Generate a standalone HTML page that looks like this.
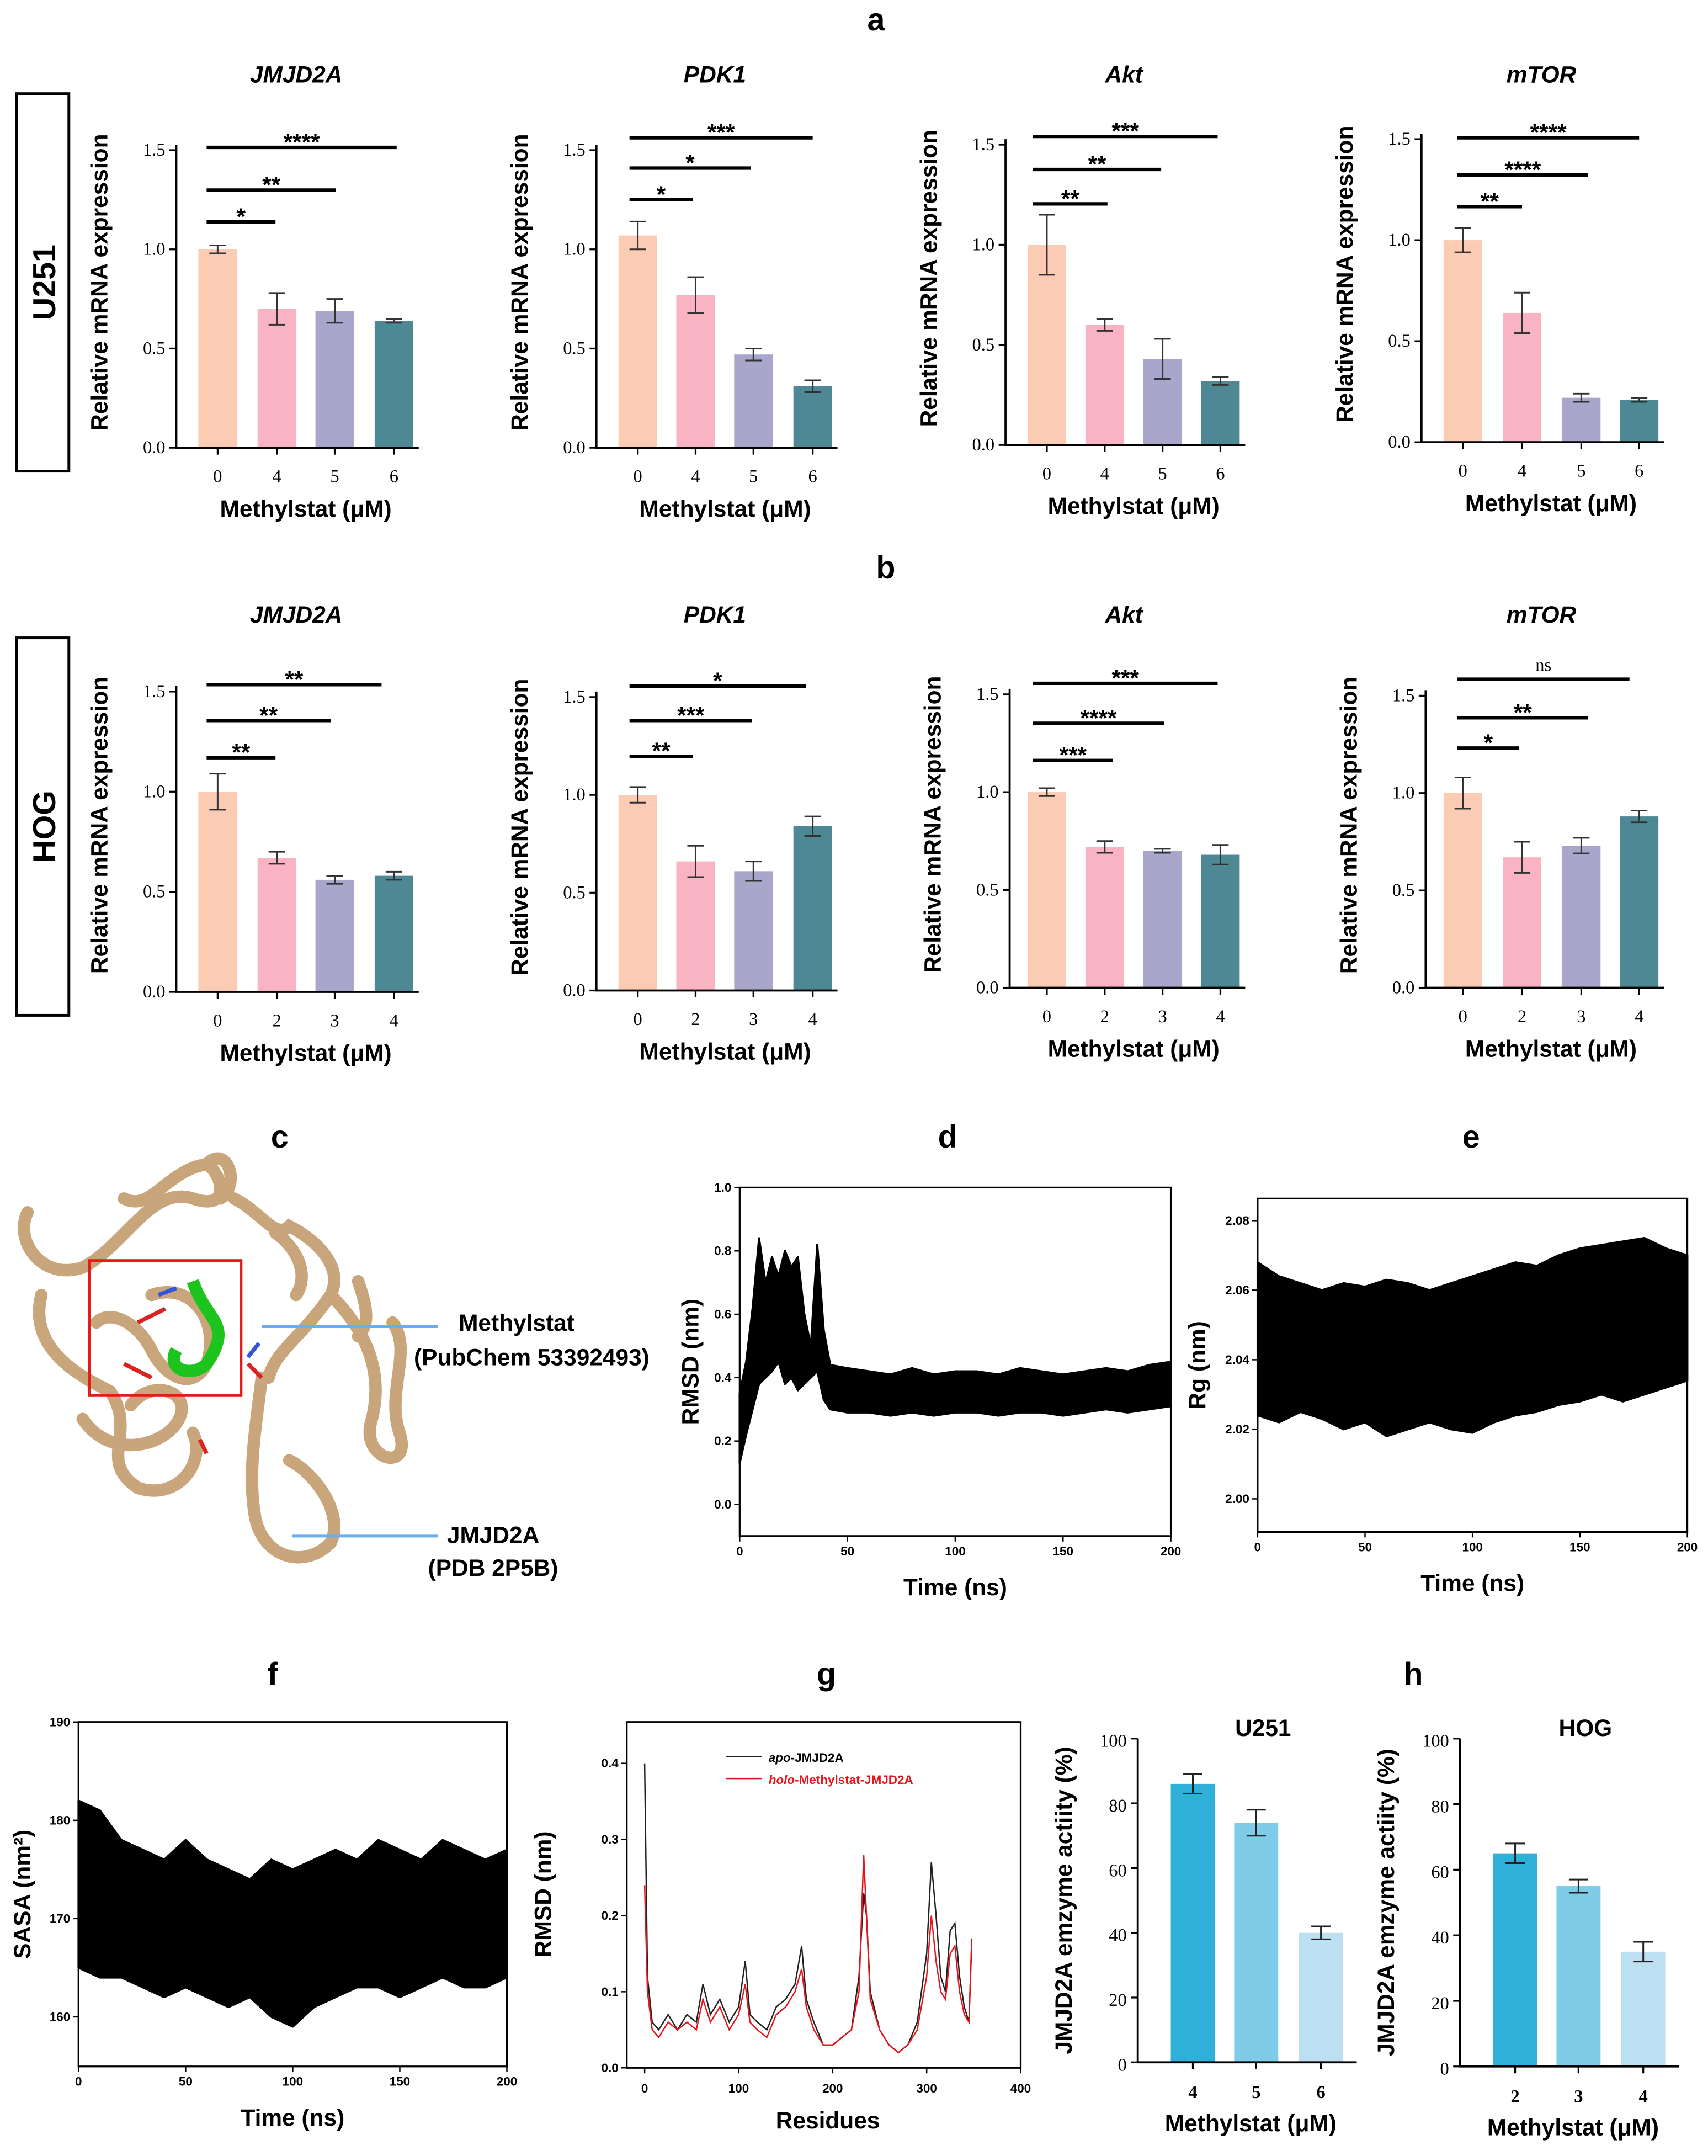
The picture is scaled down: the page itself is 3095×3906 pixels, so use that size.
<!DOCTYPE html>
<html><head><meta charset="utf-8"><style>
html,body{margin:0;padding:0;background:#fff}
svg{display:block}
.tk{font-family:"Liberation Serif",serif;font-size:13px;fill:#000}
.ax{font-family:"Liberation Sans",sans-serif;font-weight:bold;font-size:17px;fill:#000}
.sm{font-family:"Liberation Sans",sans-serif;font-weight:bold;font-size:9px;fill:#000}
.lt{font-family:"Liberation Sans",sans-serif;font-weight:bold;font-size:23px;fill:#000}
</style></head><body>
<svg id="fig" xmlns="http://www.w3.org/2000/svg" width="3095" height="3906" viewBox="0 0 1240 1565" preserveAspectRatio="none">
<g id="root"></g>
</svg>
<script>
// ---------- bar chart data ----------
const doseU = ['0','4','5','6'];
const doseH = ['0','2','3','4'];
const u_jmjd2a = [1.0,0.70,0.69,0.64], u_jmjd2a_err=[0.02,0.08,0.06,0.01];
const u_pdk1 = [1.07,0.77,0.47,0.31], u_pdk1_err=[0.07,0.09,0.03,0.03];
const u_akt = [1.0,0.60,0.43,0.32], u_akt_err=[0.15,0.03,0.10,0.02];
const u_mtor = [1.0,0.64,0.22,0.21], u_mtor_err=[0.06,0.10,0.02,0.01];
const h_jmjd2a = [1.0,0.67,0.56,0.58], h_jmjd2a_err=[0.09,0.03,0.02,0.02];
const h_pdk1 = [1.0,0.66,0.61,0.84], h_pdk1_err=[0.04,0.08,0.05,0.05];
const h_akt = [1.0,0.72,0.70,0.68], h_akt_err=[0.02,0.03,0.01,0.05];
const h_mtor = [1.0,0.67,0.73,0.88], h_mtor_err=[0.08,0.08,0.04,0.03];
const yTicks = [0,0.5,1.0,1.5];
const yTickLabels = ['0.0','0.5','1.0','1.5'];
const enzDoseU = ['4','5','6'], enzU=[86,74,40], enzU_err=[3,4,2];
const enzDoseH = ['2','3','4'], enzH=[65,55,35], enzH_err=[3,2,3];
const enzTicks = [0,20,40,60,80,100];
// ---------- MD data ----------
const dT = [0,3,6,9,12,15,18,21,24,27,30,33,36,39,42,50,60,70,80,90,100,110,120,130,140,150,160,170,180,190,200];
const dHi = [0.35,0.45,0.62,0.84,0.70,0.78,0.72,0.80,0.75,0.78,0.60,0.50,0.82,0.55,0.44,0.43,0.42,0.41,0.43,0.41,0.42,0.42,0.41,0.43,0.42,0.41,0.42,0.43,0.42,0.44,0.45];
const dLo = [0.13,0.22,0.30,0.38,0.40,0.42,0.45,0.38,0.40,0.36,0.38,0.40,0.42,0.33,0.30,0.29,0.29,0.28,0.29,0.28,0.29,0.29,0.28,0.29,0.29,0.28,0.29,0.30,0.29,0.30,0.31];
const eT = [0,10,20,30,40,50,60,70,80,90,100,110,120,130,140,150,160,170,180,190,200];
const eHi = [2.068,2.064,2.062,2.060,2.062,2.061,2.063,2.062,2.060,2.062,2.064,2.066,2.068,2.067,2.070,2.072,2.073,2.074,2.075,2.072,2.070];
const eLo = [2.024,2.022,2.025,2.023,2.020,2.022,2.018,2.020,2.022,2.020,2.019,2.022,2.024,2.025,2.027,2.028,2.030,2.028,2.030,2.032,2.034];
const fT = [0,10,20,30,40,50,60,70,80,90,100,110,120,130,140,150,160,170,180,190,200];
const fHi = [182,181,178,177,176,178,176,175,174,176,175,176,177,176,178,177,176,178,177,176,177];
const fLo = [165,164,164,163,162,163,162,161,162,160,159,161,162,163,163,162,163,164,163,163,164];
const gRes = [0,3,8,15,25,35,45,55,62,70,80,90,100,107,112,120,130,140,150,160,167,172,180,190,200,210,220,228,233,236,240,250,260,270,280,290,300,305,310,315,320,325,330,335,340,345,348];
const gApo = [0.40,0.12,0.06,0.05,0.07,0.05,0.07,0.06,0.11,0.07,0.09,0.06,0.08,0.14,0.07,0.06,0.05,0.08,0.09,0.11,0.16,0.09,0.06,0.03,0.03,0.04,0.05,0.12,0.23,0.20,0.10,0.05,0.03,0.02,0.03,0.06,0.15,0.27,0.20,0.12,0.10,0.18,0.19,0.12,0.08,0.06,0.17];
const gHolo = [0.24,0.10,0.05,0.04,0.06,0.05,0.06,0.05,0.09,0.06,0.08,0.05,0.07,0.11,0.06,0.05,0.04,0.07,0.08,0.10,0.13,0.08,0.05,0.03,0.03,0.04,0.05,0.10,0.28,0.20,0.09,0.05,0.03,0.02,0.03,0.05,0.12,0.20,0.14,0.10,0.09,0.15,0.16,0.10,0.07,0.06,0.17];

const NS='http://www.w3.org/2000/svg';
const root=document.getElementById('root');
function el(tag,attrs,parent,text){const e=document.createElementNS(NS,tag);for(const k in attrs)e.setAttribute(k,attrs[k]);if(text!==undefined)e.textContent=text;(parent||root).appendChild(e);return e;}
function grp(name,parent){const g=el('g',{},parent);


return g;}
function txt(parent,x,y,s,cls,extra,name){const t=el('text',Object.assign({x:x,y:y,class:cls,'text-anchor':'middle'},extra||{}),parent,s);


return t;}

const barColors=['#FCCBB4','#F9B3C2','#A9A6CB','#4E8895'];
function barChart(o){
  const g=grp(o.name);
  const ys=v=>o.y0-(o.y0-o.y15)*v/1.5;
  o.vals.forEach((v,i)=>{
    const cx=o.bx[i];
    const b=el('rect',{x:cx-14,y:ys(v),width:28,height:o.y0-ys(v),fill:barColors[i]},g);
    
    
    const e=o.err[i];
    el('path',{d:`M${cx} ${ys(v+e)}V${ys(v-e)}M${cx-6} ${ys(v+e)}H${cx+6}M${cx-6} ${ys(v-e)}H${cx+6}`,stroke:'#333',fill:'none','stroke-width':1.2},g);
    txt(g,cx,o.y0+25,o.cats[i],'tk',{'font-size':'14'},'x-tick');
  });
  el('path',{d:`M${o.ax} ${o.y15-4}V${o.y0}H${o.bx[3]+18}`,stroke:'#000',fill:'none','stroke-width':1.5},g);
  yTicks.forEach((t,i)=>{const y=ys(t);el('path',{d:`M${o.ax-5} ${y}H${o.ax}`,stroke:'#000','stroke-width':1.3},g);
    txt(g,o.ax-8,y+4,yTickLabels[i],'tk',{'text-anchor':'end'},'y-tick');});
  o.bx.forEach(cx=>el('path',{d:`M${cx} ${o.y0}V${o.y0+5}`,stroke:'#000','stroke-width':1.3},g));
  txt(g,(o.bx[0]+o.bx[3])/2,o.y0+50,'Methylstat (μM)','ax',{'font-size':'18'},'x-axis-title');
  txt(g,0,0,'Relative mRNA expression','ax',{transform:`translate(${o.ax-50},${(o.y0+o.y15)/2-12}) rotate(-90)`,'font-size':'20.5'},'y-axis-title');
  txt(g,o.bx[1]+14,o.ty,o.title,'ax',{'font-style':'italic','font-size':'18'},'chart-title');
  o.sig.forEach(s=>{el('path',{d:`M${s[1]} ${s[0]}H${s[2]}`,stroke:'#000','stroke-width':2.5},g);
    txt(g,(s[1]+s[2])/2,s[0]-(s[3]=='ns'?6:-2),s[3],s[3]=='ns'?'tk':'ax',s[3]=='ns'?{'font-size':'12'}:{'font-size':'18'},'significance');});
}
const bxA=[158,201,243,286],bxB=[463,505,547,590],bxC=[760,802,844,886],bxD=[1062,1105,1148,1190];
barChart({name:'u251-jmjd2a-chart',ax:128,y0:325,y15:109,bx:bxA,vals:u_jmjd2a,err:u_jmjd2a_err,cats:doseU,title:'JMJD2A',ty:60,sig:[[161,150,200,'*'],[138,150,244,'**'],[107,150,288,'****']]});
barChart({name:'u251-pdk1-chart',ax:433,y0:325,y15:109,bx:bxB,vals:u_pdk1,err:u_pdk1_err,cats:doseU,title:'PDK1',ty:60,sig:[[145,457,503,'*'],[122,457,545,'*'],[100,457,590,'***']]});
barChart({name:'u251-akt-chart',ax:730,y0:323,y15:105,bx:bxC,vals:u_akt,err:u_akt_err,cats:doseU,title:'Akt',ty:60,sig:[[148,750,804,'**'],[123,750,843,'**'],[99,750,884,'***']]});
barChart({name:'u251-mtor-chart',ax:1032,y0:321,y15:101,bx:bxD,vals:u_mtor,err:u_mtor_err,cats:doseU,title:'mTOR',ty:60,sig:[[150,1058,1105,'**'],[127,1058,1153,'****'],[100,1058,1190,'****']]});
barChart({name:'hog-jmjd2a-chart',ax:128,y0:720,y15:502,bx:bxA,vals:h_jmjd2a,err:h_jmjd2a_err,cats:doseH,title:'JMJD2A',ty:452,sig:[[550,150,200,'**'],[523,150,240,'**'],[497,150,277,'**']]});
barChart({name:'hog-pdk1-chart',ax:433,y0:719,y15:506,bx:bxB,vals:h_pdk1,err:h_pdk1_err,cats:doseH,title:'PDK1',ty:452,sig:[[549,457,503,'**'],[523,457,546,'***'],[498,457,585,'*']]});
barChart({name:'hog-akt-chart',ax:733,y0:717,y15:504,bx:bxC,vals:h_akt,err:h_akt_err,cats:doseH,title:'Akt',ty:452,sig:[[552,750,808,'***'],[525,750,845,'****'],[496,750,884,'***']]});
barChart({name:'hog-mtor-chart',ax:1035,y0:717,y15:505,bx:bxD,vals:h_mtor,err:h_mtor_err,cats:doseH,title:'mTOR',ty:452,sig:[[543,1058,1103,'*'],[521,1058,1153,'**'],[493,1058,1183,'ns']]});

[['u251-row-label',68,'U251'],['hog-row-label',463,'HOG']].forEach(r=>{const g=grp(r[0]);
  el('rect',{x:12,y:r[1],width:38,height:274,fill:'none',stroke:'#000','stroke-width':2},g);
  txt(g,0,0,r[2],'lt',{transform:`translate(40,${r[1]+137}) rotate(-90)`,'font-size':'24'},'row-name');});
[['a',636,22],['b',643,420],['c',203,833],['d',688,833],['e',1068,833],['f',198,1223],['g',600,1223],['h',1026,1223]].forEach(p=>txt(root,p[1],p[2],p[0],'lt',{},'panel-letter-'+p[0]));

// ---------- structure panel c ----------
(function(){const g=grp('protein-structure');
 const tan='#C9A57B';
 const paths=['M20 880 C10 900 30 930 60 920 C90 905 110 860 140 870 C170 880 160 850 150 845 C120 850 110 880 90 870',
 'M30 940 C20 980 60 1000 80 1010 C100 1040 70 1060 100 1080 C130 1090 150 1060 140 1040',
 'M170 870 C190 880 200 900 210 890 C230 900 250 920 240 940 C220 970 200 980 195 1000',
 'M190 1000 C185 1040 180 1070 185 1100 C190 1130 220 1140 240 1120 C250 1100 230 1070 210 1060',
 'M240 940 C260 960 280 990 270 1030 C260 1060 300 1070 290 1040 C280 1010 300 980 285 960',
 'M60 1030 C80 1060 120 1050 130 1030 C140 1010 110 1000 95 1020',
 'M110 940 C140 930 160 960 150 990 C140 1010 120 1000 110 980 C100 960 80 950 70 960',
 'M150 845 C165 830 175 860 160 870 M200 895 C215 905 225 925 215 940 M260 930 C265 945 270 960 260 970'];
 paths.forEach(d=>el('path',{d:d,stroke:tan,fill:'none','stroke-width':9,'stroke-linecap':'round'},g));
 el('path',{d:'M140 930 C150 960 170 960 150 990 C140 1000 120 995 128 980',stroke:'#1DC41D',fill:'none','stroke-width':9},g);
 el('path',{d:'M100 960 L120 950 M90 990 L110 1000 M180 990 L190 1000 M145 1045 L150 1055',stroke:'#D22',fill:'none','stroke-width':3},g);
 el('path',{d:'M115 940 L128 935 M180 985 L188 975',stroke:'#3355DD',fill:'none','stroke-width':3},g);
 el('rect',{x:65,y:915,width:110,height:98,fill:'none',stroke:'#E21B1B','stroke-width':2},g);
 el('path',{d:'M190 963H318M212 1115H318',stroke:'#6AAEF0','stroke-width':2},g);
 txt(g,375,966,'Methylstat','ax',{},'ligand-label');
 txt(g,386,991,'(PubChem 53392493)','ax',{},'ligand-id');
 txt(g,358,1120,'JMJD2A','ax',{},'protein-label');
 txt(g,358,1144,'(PDB 2P5B)','ax',{},'protein-id');
})();

// ---------- band (MD) plots ----------
function bandPlot(o){
  const g=grp(o.name);
  const xs=t=>o.x0+(o.x1-o.x0)*(t-o.tmin)/(o.tmax-o.tmin);
  const ys=v=>o.yb-(o.yb-o.ytop)*(v-o.vmin)/(o.vmax-o.vmin);
  let d='M'+o.t.map((t,i)=>xs(t)+' '+ys(o.hi[i])).join('L');
  d+='L'+o.t.map((t,i)=>xs(t)+' '+ys(o.lo[i])).reverse().join('L')+'Z';
  const p=el('path',{d:d,fill:'#000',stroke:'#000','stroke-width':1.5,'stroke-linejoin':'round'},g);
  
  
  el('rect',{x:o.bx0,y:o.by0,width:o.bx1-o.bx0,height:o.by1-o.by0,fill:'none',stroke:'#000','stroke-width':1.3},g);
  o.xtk.forEach(t=>{el('path',{d:`M${xs(t)} ${o.by1}V${o.by1+4}`,stroke:'#000'},g);txt(g,xs(t),o.by1+14,String(t),'sm',{},'x-tick');});
  o.ytk.forEach((t,i)=>{el('path',{d:`M${o.bx0-4} ${ys(t)}H${o.bx0}`,stroke:'#000'},g);txt(g,o.bx0-6,ys(t)+3,o.ytl[i],'sm',{'text-anchor':'end'},'y-tick');});
  txt(g,(o.bx0+o.bx1)/2,o.by1+43,o.xl,'ax',{},'x-axis-title');
  txt(g,0,0,o.yl,'ax',{transform:`translate(${o.ylx},${(o.by0+o.by1)/2}) rotate(-90)`,'font-size':'16'},'y-axis-title');
}
bandPlot({name:'rmsd-chart',t:dT,hi:dHi,lo:dLo,x0:537,x1:850,tmin:0,tmax:200,yb:1092,ytop:862,vmin:0,vmax:1,bx0:537,bx1:850,by0:862,by1:1115,xtk:[0,50,100,150,200],ytk:[0,0.2,0.4,0.6,0.8,1.0],ytl:['0.0','0.2','0.4','0.6','0.8','1.0'],xl:'Time (ns)',yl:'RMSD (nm)',ylx:507});
bandPlot({name:'rg-chart',t:eT,hi:eHi,lo:eLo,x0:913,x1:1225,tmin:0,tmax:200,yb:1088,ytop:886,vmin:2.0,vmax:2.08,bx0:913,bx1:1225,by0:870,by1:1112,xtk:[0,50,100,150,200],ytk:[2.0,2.02,2.04,2.06,2.08],ytl:['2.00','2.02','2.04','2.06','2.08'],xl:'Time (ns)',yl:'Rg (nm)',ylx:875});
bandPlot({name:'sasa-chart',t:fT,hi:fHi,lo:fLo,x0:57,x1:368,tmin:0,tmax:200,yb:1464,ytop:1250,vmin:160,vmax:190,bx0:57,bx1:368,by0:1250,by1:1500,xtk:[0,50,100,150,200],ytk:[160,170,180,190],ytl:['160','170','180','190'],xl:'Time (ns)',yl:'SASA (nm²)',ylx:22});

// ---------- panel g ----------
(function(){const g=grp('residue-rmsd-chart');
 const xs=r=>468+(741-468)*r/400, ys=v=>1501-(1501-1280)*v/0.4;
 el('rect',{x:455,y:1250,width:286,height:251,fill:'none',stroke:'#000','stroke-width':1.3},g);
 [0,100,200,300,400].forEach(t=>{el('path',{d:`M${xs(t)} 1501V1505`,stroke:'#000'},g);txt(g,xs(t),1519,String(t),'sm',{},'x-tick');});
 [0,0.1,0.2,0.3,0.4].forEach(t=>{el('path',{d:`M451 ${ys(t)}H455`,stroke:'#000'},g);txt(g,449,ys(t)+3,t.toFixed(1),'sm',{'text-anchor':'end'},'y-tick');});
 const l1=el('path',{d:'M'+gRes.map((r,i)=>xs(r)+' '+ys(gApo[i])).join('L'),stroke:'#222',fill:'none','stroke-width':1},g);
 
 
 const l2=el('path',{d:'M'+gRes.map((r,i)=>xs(r)+' '+ys(gHolo[i])).join('L'),stroke:'#E8141B',fill:'none','stroke-width':1},g);
 
 
 el('path',{d:'M527 1275H553',stroke:'#222'},g);el('path',{d:'M527 1291H553',stroke:'#E8141B'},g);
 const t1=el('text',{x:558,y:1279,class:'sm','font-size':'11'},g);t1.innerHTML='<tspan font-style="italic">apo</tspan>-JMJD2A';
 
 
 const t2=el('text',{x:558,y:1295,class:'sm','font-size':'11',fill:'#E8141B',style:'fill:#E8141B'},g);t2.innerHTML='<tspan font-style="italic">holo</tspan>-Methylstat-JMJD2A';
 
 
 txt(g,601,1545,'Residues','ax',{},'x-axis-title');
 txt(g,0,0,'RMSD (nm)','ax',{transform:'translate(400,1375) rotate(-90)','font-size':'16'},'y-axis-title');
})();

// ---------- panel h ----------
const enzColors=['#2EB0D8','#7FCCE8','#BDDFF2'];
function enzChart(o){const g=grp(o.name);
 const ys=v=>o.y0-(o.y0-o.y100)*v/100;
 o.vals.forEach((v,i)=>{const cx=o.bx[i];
  const b=el('rect',{x:cx-16,y:ys(v),width:32,height:o.y0-ys(v),fill:enzColors[i]},g);
  
  
  const e=o.err[i];
  el('path',{d:`M${cx} ${ys(v+e)}V${ys(v-e)}M${cx-7} ${ys(v+e)}H${cx+7}M${cx-7} ${ys(v-e)}H${cx+7}`,stroke:'#222',fill:'none','stroke-width':1.2},g);
  txt(g,cx,o.y0+26,o.cats[i],'tk',{'font-size':'17','font-weight':'bold'},'x-tick');
  el('path',{d:`M${cx} ${o.y0}V${o.y0+5}`,stroke:'#000','stroke-width':1.3},g);});
 el('path',{d:`M${o.ax} ${o.y100}V${o.y0}H${o.bx[2]+26}`,stroke:'#000',fill:'none','stroke-width':1.5},g);
 enzTicks.forEach(t=>{el('path',{d:`M${o.ax-5} ${ys(t)}H${o.ax}`,stroke:'#000','stroke-width':1.3},g);
  txt(g,o.ax-8,ys(t)+6,String(t),'tk',{'text-anchor':'end','font-size':'17'},'y-tick');});
 txt(g,o.bx[1]+5,o.y100-2,o.title,'ax',{},'chart-title');
 txt(g,o.bx[1]-4,o.y0+50,'Methylstat (μM)','ax',{'font-size':'18'},'x-axis-title');
 txt(g,0,0,'JMJD2A emzyme actiity (%)','ax',{transform:`translate(${o.ax-48},${(o.y0+o.y100)/2}) rotate(-90)`,'font-size':'17'},'y-axis-title');
}
enzChart({name:'u251-enzyme-chart',ax:826,y0:1497,y100:1262,bx:[866,912,959],vals:enzU,err:enzU_err,cats:enzDoseU,title:'U251'});
enzChart({name:'hog-enzyme-chart',ax:1060,y0:1500,y100:1262,bx:[1100,1146,1193],vals:enzH,err:enzH_err,cats:enzDoseH,title:'HOG'});
</script>
</body></html>
